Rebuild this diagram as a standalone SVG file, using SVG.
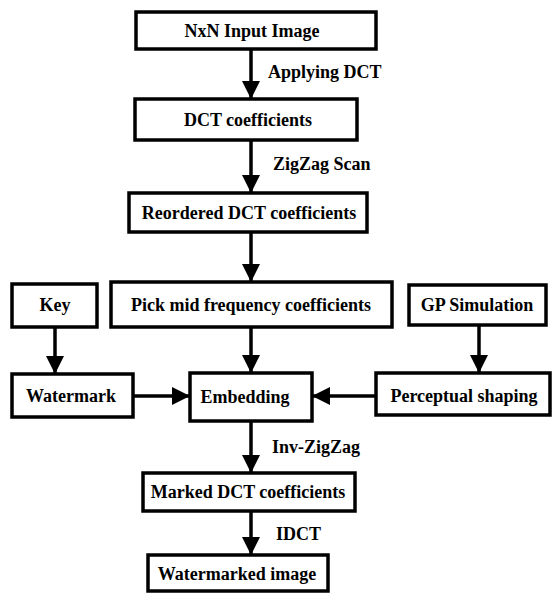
<svg xmlns="http://www.w3.org/2000/svg" width="552" height="593" viewBox="0 0 552 593">
<style>
.box{fill:#fff;stroke:#000;stroke-width:3.5}
.t{fill:#000;text-anchor:middle}
.l{fill:#000}
.c{stroke:#000;stroke-width:3.5;fill:none;marker-end:url(#ah)}
</style>
<defs>
<marker id="ah" markerUnits="userSpaceOnUse" markerWidth="18" markerHeight="18" viewBox="0 0 18 18" refX="18" refY="9" orient="auto">
<path d="M0,0 L18,9 L0,18 z" fill="#000"/>
</marker>
</defs>
<rect width="552" height="593" fill="#fff"/>
<g id="connectors">
<line class="c" x1="251" y1="49" x2="251" y2="99"/>
<line class="c" x1="251" y1="140" x2="251" y2="193"/>
<line class="c" x1="251" y1="232" x2="251" y2="282"/>
<line class="c" x1="55" y1="327" x2="55" y2="374"/>
<line class="c" x1="251" y1="327" x2="251" y2="373"/>
<line class="c" x1="479" y1="325" x2="479" y2="373"/>
<line class="c" x1="133" y1="396" x2="190" y2="396"/>
<line class="c" x1="376" y1="396" x2="312" y2="396"/>
<line class="c" x1="251" y1="421" x2="251" y2="473"/>
<line class="c" x1="251" y1="511" x2="251" y2="555"/>
<text class="l" font-family="Liberation Serif" font-size="18" font-weight="bold" x="268" y="78">Applying DCT</text>
<text class="l" font-family="Liberation Serif" font-size="18" font-weight="bold" x="273" y="170">ZigZag Scan</text>
<text class="l" font-family="Liberation Serif" font-size="18" font-weight="bold" x="272" y="453">Inv-ZigZag</text>
<text class="l" font-family="Liberation Serif" font-size="18" font-weight="bold" x="276" y="540">IDCT</text>
</g>
<g id="input"><rect class="box" x="136" y="12" width="240" height="37"/><text class="t" font-family="Liberation Serif" font-size="18" font-weight="bold" x="252" y="37">NxN Input Image</text></g>
<g id="dct"><rect class="box" x="135" y="99" width="222" height="41"/><text class="t" font-family="Liberation Serif" font-size="18" font-weight="bold" x="248" y="126">DCT coefficients</text></g>
<g id="reordered"><rect class="box" x="129" y="193" width="238" height="39"/><text class="t" font-family="Liberation Serif" font-size="18" font-weight="bold" x="249" y="219">Reordered DCT coefficients</text></g>
<g id="pick"><rect class="box" x="111" y="282" width="281" height="45"/><text class="t" font-family="Liberation Serif" font-size="18" font-weight="bold" x="251" y="311">Pick mid frequency coefficients</text></g>
<g id="key"><rect class="box" x="12" y="284" width="85" height="43"/><text class="t" font-family="Liberation Serif" font-size="18" font-weight="bold" x="55" y="311">Key</text></g>
<g id="gp"><rect class="box" x="409" y="285" width="137" height="40"/><text class="t" font-family="Liberation Serif" font-size="18" font-weight="bold" x="477" y="311">GP Simulation</text></g>
<g id="watermark"><rect class="box" x="12" y="374" width="121" height="43"/><text class="t" font-family="Liberation Serif" font-size="18" font-weight="bold" x="71" y="402">Watermark</text></g>
<g id="embedding"><rect class="box" x="190" y="373" width="122" height="48"/><text class="t" font-family="Liberation Serif" font-size="18" font-weight="bold" x="245" y="403">Embedding</text></g>
<g id="perceptual"><rect class="box" x="376" y="373" width="174" height="42"/><text class="t" font-family="Liberation Serif" font-size="18" font-weight="bold" x="464" y="402">Perceptual shaping</text></g>
<g id="marked"><rect class="box" x="143" y="473" width="212" height="38"/><text class="t" font-family="Liberation Serif" font-size="18" font-weight="bold" x="248" y="498">Marked DCT coefficients</text></g>
<g id="watermarked"><rect class="box" x="148" y="555" width="180" height="36"/><text class="t" font-family="Liberation Serif" font-size="18" font-weight="bold" x="237" y="580">Watermarked image</text></g>
</svg>
